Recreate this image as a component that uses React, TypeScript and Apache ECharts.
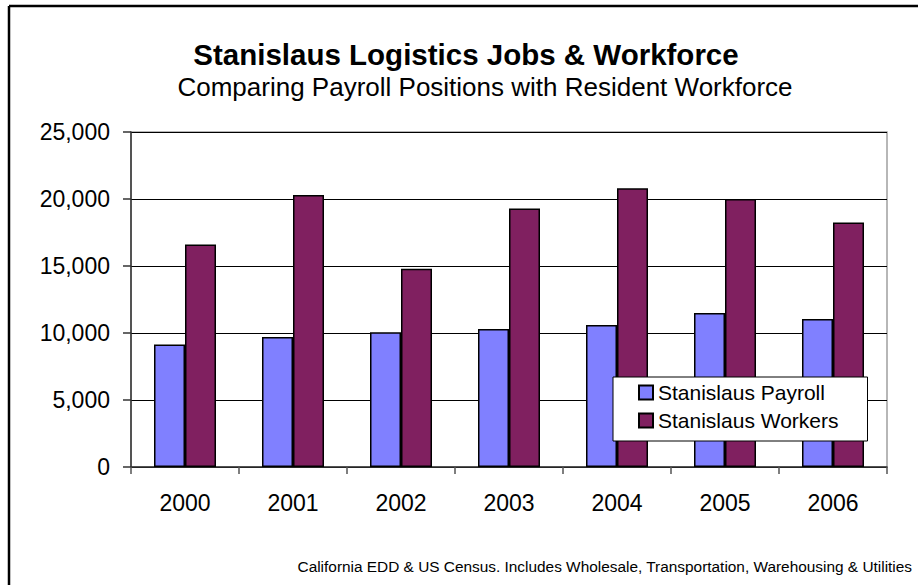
import React, { useEffect, useRef } from "react";
import * as echarts from "echarts";

const years = ["2000", "2001", "2002", "2003", "2004", "2005", "2006"];
const payroll = [9150, 9700, 10050, 10300, 10600, 11500, 11050];
const workers = [16600, 20300, 14800, 19300, 20800, 20000, 18250];
const seriesNames = ["Stanislaus Payroll", "Stanislaus Workers"];
const titleText = "Stanislaus Logistics Jobs & Workforce";
const subtitleText = "Comparing Payroll Positions with Resident Workforce";
const footerText =
  "California EDD & US Census. Includes Wholesale, Transportation, Warehousing & Utilities";

const FONT = "Liberation Sans, Arial, sans-serif";

export default function App() {
  const ref = useRef<HTMLDivElement>(null);

  useEffect(() => {
    if (!ref.current) return;
    const chart = echarts.init(ref.current, null, { renderer: "svg" });
    chart.setOption({
      animation: false,
      backgroundColor: "#ffffff",
      textStyle: { fontFamily: FONT },
      grid: {
        left: 131,
        right: 31,
        top: 132,
        bottom: 118,
        show: true,
        borderColor: "#a0a0a0",
        borderWidth: 1.5,
      },
      graphic: [
        {
          type: "line",
          shape: { x1: 9, y1: 6, x2: 918, y2: 6 },
          style: { stroke: "#000", lineWidth: 2.5 },
        },
        {
          type: "line",
          shape: { x1: 9, y1: 6, x2: 9, y2: 585 },
          style: { stroke: "#000", lineWidth: 2.5 },
        },
        {
          type: "text",
          x: 466,
          y: 54,
          style: {
            text: titleText,
            fontFamily: FONT,
            fontSize: 29.5,
            fontWeight: "bold",
            fill: "#000",
            textAlign: "center",
            textVerticalAlign: "middle",
          },
        },
        {
          type: "text",
          x: 485,
          y: 87,
          style: {
            text: subtitleText,
            fontFamily: FONT,
            fontSize: 26,
            fill: "#000",
            textAlign: "center",
            textVerticalAlign: "middle",
          },
        },
        {
          type: "text",
          x: 912,
          y: 566,
          style: {
            text: footerText,
            fontFamily: FONT,
            fontSize: 15.4,
            fill: "#000",
            textAlign: "right",
            textVerticalAlign: "middle",
          },
        },
      ],
      legend: {
        orient: "vertical",
        left: 613,
        top: 377,
        padding: [5, 29, 10, 25],
        itemGap: 7,
        itemWidth: 14,
        itemHeight: 14,
        backgroundColor: "#ffffff",
        borderColor: "#000",
        borderWidth: 1,
        icon: "rect",
        textStyle: { fontFamily: FONT, fontSize: 21, color: "#000", lineHeight: 21 },
        data: seriesNames,
      },
      xAxis: {
        type: "category",
        data: years,
        axisLine: { lineStyle: { color: "#333", width: 1.5 } },
        axisTick: { show: true, length: 7, lineStyle: { color: "#555", width: 1.5 } },
        axisLabel: { fontSize: 23, color: "#000", margin: 24, fontFamily: FONT },
      },
      yAxis: {
        type: "value",
        min: 0,
        max: 25000,
        interval: 5000,
        axisLine: { show: true, lineStyle: { color: "#333", width: 1.5 } },
        axisTick: { show: true, length: 8, lineStyle: { color: "#333", width: 1.5 } },
        axisLabel: {
          fontSize: 23,
          color: "#000",
          margin: 21,
          fontFamily: FONT,
          formatter: (v: number) => v.toLocaleString("en-US"),
        },
        splitLine: { show: true, lineStyle: { color: "#000", width: 1 } },
      },
      series: [
        {
          name: seriesNames[0],
          type: "bar",
          data: payroll,
          barWidth: 31,
          barGap: "0%",
          itemStyle: { color: "#8080ff", borderColor: "#000", borderWidth: 1.5 },
        },
        {
          name: seriesNames[1],
          type: "bar",
          data: workers,
          barWidth: 31,
          itemStyle: { color: "#802060", borderColor: "#000", borderWidth: 1.5 },
        },
      ],
    });
    return () => chart.dispose();
  }, []);

  return (
    <div
      ref={ref}
      style={{ position: "fixed", left: 0, top: 0, width: 918, height: 585, background: "#fff" }}
    />
  );
}
